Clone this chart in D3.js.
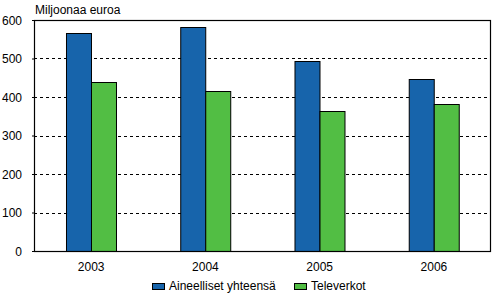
<!DOCTYPE html>
<html>
<head>
<meta charset="utf-8">
<script src="https://cdn.jsdelivr.net/npm/d3@7"></script>
<style>
  body { margin: 0; background: #fff; }
  text { font-family: "Liberation Sans", Arial, sans-serif; font-size: 12px; fill: #000; }
</style>
</head>
<body>
<div id="chart"></div>
<script>
var years = ["2003", "2004", "2005", "2006"];
var seriesNames = ["Aineelliset yhteensä", "Televerkot"];
var aineelliset = [567, 582, 493, 446];
var televerkot = [439, 415, 364, 382];
var yTicks = [0, 100, 200, 300, 400, 500, 600];
var colors = ["#1764ab", "#52be44"];

var margin = {top: 20, right: 2, bottom: 47, left: 34};
var width = 493 - margin.left - margin.right;
var height = 298 - margin.top - margin.bottom;

var svg = d3.select("#chart")
    .append("svg")
    .attr("width", 493)
    .attr("height", 298);

var g = svg.append("g")
    .attr("transform", `translate(${margin.left},${margin.top})`);

var x0 = d3.scaleBand()
    .domain(years)
    .range([0, width])
    .paddingInner(0.56)
    .paddingOuter(0.28);

var x1 = d3.scaleBand()
    .domain([0, 1])
    .range([0, x0.bandwidth()]);

var y = d3.scaleLinear()
    .domain([0, 600])
    .range([height, 0]);

// Gridlines
g.selectAll(".grid")
    .data(yTicks.filter(d => d > 0 && d < 600))
    .enter()
    .append("line")
    .attr("x1", 0)
    .attr("x2", width)
    .attr("y1", d => Math.round(y(d)) + 0.5)
    .attr("y2", d => Math.round(y(d)) + 0.5)
    .attr("stroke", "#000")
    .attr("stroke-dasharray", "3,3");

// Bars
var data = years.map((yr, i) => ({year: yr, values: [aineelliset[i], televerkot[i]]}));

var groups = g.selectAll(".year")
    .data(data)
    .enter()
    .append("g")
    .attr("transform", d => `translate(${x0(d.year)},0)`);

groups.selectAll("rect")
    .data(d => d.values.map((v, k) => ({k: k, v: v})))
    .enter()
    .append("rect")
    .attr("x", d => Math.round(x1(d.k)) + 0.5)
    .attr("y", d => Math.round(y(d.v)) + 0.5)
    .attr("width", Math.round(x1.bandwidth()))
    .attr("height", d => Math.round(height - y(d.v)))
    .attr("fill", d => colors[d.k])
    .attr("stroke", "#000")
    .attr("stroke-width", 1);

// Frame
g.append("rect")
    .attr("x", 0.5)
    .attr("y", 0.5)
    .attr("width", width - 1)
    .attr("height", height)
    .attr("fill", "none")
    .attr("stroke", "#000")
    .attr("stroke-width", 1.2);

// Y axis
var yAxis = g.append("g")
    .call(d3.axisLeft(y).tickValues(yTicks).tickSize(2).tickPadding(10));
yAxis.select(".domain").remove();
yAxis.selectAll("line").attr("stroke", "#000");
yAxis.selectAll("text").style("font-size", "12px").attr("dy", "0.36em");

// X axis labels
var xAxis = g.append("g")
    .attr("transform", `translate(0,${height})`)
    .call(d3.axisBottom(x0).tickSize(0).tickPadding(11));
xAxis.select(".domain").remove();
xAxis.selectAll("text").style("font-size", "12px");

// Title
svg.append("text")
    .attr("x", 35)
    .attr("y", 14)
    .text("Miljoonaa euroa");

// Legend
var legendX = [152, 294];
var legend = svg.selectAll(".legend")
    .data(seriesNames)
    .enter()
    .append("g")
    .attr("transform", (d, i) => `translate(${legendX[i]},283)`);

legend.append("rect")
    .attr("x", 0.5)
    .attr("y", 0.5)
    .attr("width", 12)
    .attr("height", 6)
    .attr("fill", (d, i) => colors[i])
    .attr("stroke", "#000");

legend.append("text")
    .attr("x", 17)
    .attr("y", 7)
    .text(d => d);
</script>
</body>
</html>
